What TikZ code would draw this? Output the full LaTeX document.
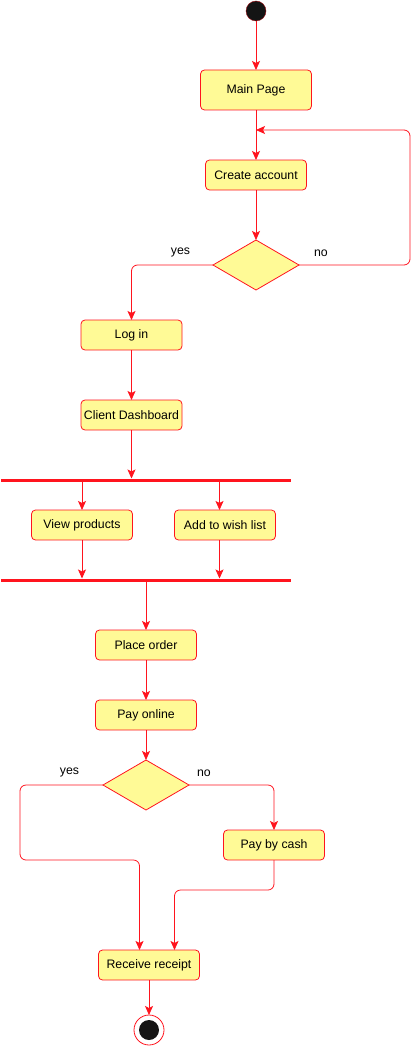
\documentclass[tikz,border=0pt]{standalone}
\usepackage{fontspec}
\setmainfont{Liberation Sans}
\usetikzlibrary{arrows.meta,positioning,calc,shapes.geometric}

\definecolor{actfill}{RGB}{255,250,150}
\definecolor{actline}{RGB}{255,20,30}

\begin{document}
\begin{tikzpicture}[
  x=1pt, y=-1pt,
  font=\fontsize{12.3}{14}\selectfont,
  every node/.style={outer sep=0pt},
  act/.style={
    draw=actline,
    fill=actfill,
    rounded corners=4pt,
    align=center,
    inner sep=1pt,
    minimum width=101pt,
    minimum height=30pt,
    line width=0.8pt
  },
  decision/.style={
    diamond,
    draw=actline,
    fill=actfill,
    inner sep=0pt,
    minimum width=86pt,
    minimum height=50pt,
    line width=0.8pt
  },
  bar/.style={
    fill=actline,
    inner sep=0pt,
    minimum width=290pt,
    minimum height=3pt
  },
  initial/.style={
    circle,
    draw=actline!60!black,
    fill=black!92,
    minimum size=20pt,
    inner sep=0pt
  },
  final/.style={
    circle,
    draw=actline,
    fill=white,
    minimum size=30pt,
    inner sep=0pt,
    line width=0.8pt,
    path picture={\fill[black!92] (path picture bounding box.center) circle (10pt);}
  },
  lbl/.style={inner sep=1pt},
  arr/.style={-{Stealth[length=9pt,width=8pt,inset=2pt]}, draw=actline, line width=0.8pt, rounded corners=6pt}
]
\useasboundingbox (0,0) rectangle (420,1046);

\node[initial] (start) at (256,11) {};
\node[act, minimum width=111pt, minimum height=40pt, below=49pt of start] (main) {Main Page};
\node[act, below=50pt of main] (create) {Create account};
\node[decision, below=50pt of create] (dec1) {};
\node[act, below=30pt of dec1, xshift=-124.5pt] (login) {Log in};
\node[act, below=50pt of login] (dash) {Client Dashboard};

\node[bar, below=48.5pt of dash, xshift=14.5pt] (fork) {};
\node[act, below=28.5pt of fork, xshift=-64pt] (view) {View products};
\node[act, right=42pt of view] (wish) {Add to wish list};
\node[bar, below=38.5pt of view, xshift=64pt] (join) {};

\node[act, below=48.5pt of join] (place) {Place order};
\node[act, below=40pt of place] (online) {Pay online};
\node[decision, below=30pt of online] (dec2) {};
\node[act, below=20pt of dec2, xshift=128pt] (cash) {Pay by cash};
\node[act, below=90pt of cash, xshift=-125pt] (receipt) {Receive receipt};
\node[final, below=35pt of receipt] (end) {};

% guard labels
\node[lbl, above left=7pt and 22pt of dec1.west] (yes1) {yes};
\node[lbl, above right=7pt and 14pt of dec1.east] (no1) {no};
\node[lbl, above left=7pt and 23pt of dec2.west] (yes2) {yes};
\node[lbl, above right=7pt and 7pt of dec2.east] (no2) {no};

\coordinate (back) at ($(main.south)!0.4!(create.north)$);

\draw[arr] (start) -- (main);
\draw[arr] (main) -- (create);
\draw[arr] (create) -- (dec1);
\draw[arr] (dec1.east) -- ++(111,0) |- (back);
\draw[arr] (dec1.west) -| (login.north);
\draw[arr] (login) -- (dash);
\draw[arr] (dash) -- (dash |- fork.north);
\draw[arr] (view |- fork.south) -- (view);
\draw[arr] ([xshift=-5.5pt]wish.north |- fork.south) -- ([xshift=-5.5pt]wish.north);
\draw[arr] (view) -- (view |- join.north);
\draw[arr] ([xshift=-5.5pt]wish.south) -- ([xshift=-5.5pt]wish.south |- join.north);
\draw[arr] (join.south -| place) -- (place);
\draw[arr] (place) -- (online);
\draw[arr] (online) -- (dec2);
\draw[arr] (dec2.west) -| ([xshift=-83pt]dec2.west |- cash.south) -| ([xshift=-9.5pt]receipt.north);
\draw[arr] (dec2.east) -| (cash.north);
\draw[arr] (cash.south) -- ++(0,30) -| ([xshift=25.5pt]receipt.north);
\draw[arr] (receipt) -- (end);

\end{tikzpicture}
\end{document}
